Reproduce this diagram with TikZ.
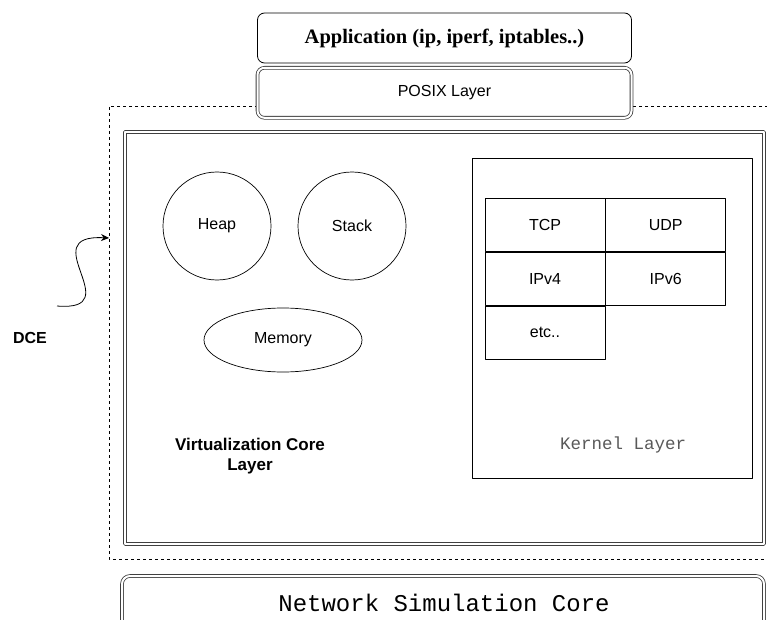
\documentclass[tikz,border=0pt]{standalone}
\usepackage{fontspec}
\setmainfont{Liberation Sans}
\setmonofont{Liberation Mono}
\newfontfamily\appserif{Liberation Serif}
\usepackage{tikz}
\usetikzlibrary{positioning,shapes.geometric,arrows.meta}
\tikzset{
  dcelayer/.style={draw,rounded corners=7pt,line width=0.8pt,fill=white,
    minimum width=374pt,minimum height=50pt},
  dcedouble/.style={draw=black!75,double=white,double distance=2pt,line width=0.8pt},
  dcecell/.style={draw,line width=0.7pt,minimum width=120pt,minimum height=53pt,
    font=\fontsize{16}{18}\selectfont},
  dceblob/.style={draw,line width=0.7pt,font=\fontsize{16}{18}\selectfont},
  dcelabel/.style={font=\fontsize{17}{20}\selectfont\bfseries,align=center},
  every picture/.style={line join=round}
}

\begin{document}
\begin{tikzpicture}[x=1pt,y=-1pt]
  \useasboundingbox (0,0) rectangle (767,620);
  % DCE frame
  \draw[dashed,line width=0.8pt] (780,106) -- (109,106) -- (109,559) -- (780,559);
  \draw[dcedouble] (125,132) rectangle (764,544);
  \draw[dcedouble,rounded corners=8pt] (122,640) -- (122,576) -- (764,576) -- (764,640);
  \node[font=\ttfamily\fontsize{24}{26}\selectfont] (netsim) at (444,603) {Network Simulation Core};
  % top of the stack
  \node[dcelayer,font=\appserif\bfseries\fontsize{20.5}{22}\selectfont] (app) at (444.5,38)
    {Application (ip, iperf, iptables..)};
  \node[dcelayer,dcedouble,rounded corners=7pt,font=\fontsize{16}{18}\selectfont,
    below=4pt of app.south] (posix) {POSIX Layer};
  % virtualization core
  \node[dceblob,circle,minimum size=108pt] (heap) at (217,226) {Heap};
  \node[dceblob,circle,minimum size=108pt] (stack) at (352,226) {Stack};
  \node[dceblob,ellipse,minimum width=158pt,minimum height=64pt] (memory) at (283,340) {Memory};
  \node[dcelabel] (virt) at (250,456) {Virtualization Core\\Layer};
  % kernel
  \draw[line width=0.8pt] (472,158) rectangle (752,478);
  \node[dcecell] (tcp) at (545,225) {TCP};
  \node[dcecell,right=0pt of tcp] (udp) {UDP};
  \node[dcecell,below=0pt of tcp] (ipvfour) {IPv4};
  \node[dcecell,right=0pt of ipvfour] (ipvsix) {IPv6};
  \node[dcecell,below=0pt of ipvfour] (etc) {etc..};
  \node[font=\ttfamily\fontsize{17.5}{19}\selectfont,text=black!65] (kernel) at (623,445) {Kernel Layer};
  % DCE arrow
  \node[dcelabel,font=\fontsize{16}{18}\selectfont\bfseries] (dce) at (30,338) {DCE};
  \coordinate (dcetail) at (57,306);
  \coordinate (dcehead) at (109,238);
  \draw[line width=0.8pt,-{Stealth[length=8pt,width=7pt]}] (dcetail)
    .. controls (130,312) and (32,234) .. (dcehead);
\end{tikzpicture}
\end{document}
